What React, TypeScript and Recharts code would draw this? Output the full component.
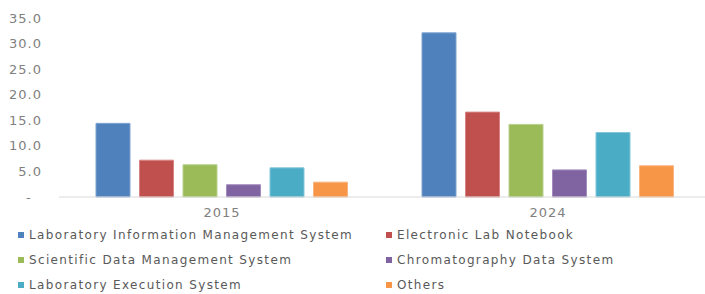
import React from 'react';
import { BarChart, Bar, XAxis, YAxis, Legend } from 'recharts';

const years = ['2015', '2024'];
const lims = [14.4, 32.1];
const eln = [7.2, 16.6];
const sdms = [6.3, 14.2];
const cds = [2.4, 5.3];
const les = [5.7, 12.6];
const others = [2.9, 6.1];
const yTicks = [0, 5, 10, 15, 20, 25, 30, 35];

const seriesNames = [
  'Laboratory Information Management System',
  'Electronic Lab Notebook',
  'Scientific Data Management System',
  'Chromatography Data System',
  'Laboratory Execution System',
  'Others',
];
const seriesKeys = ['lims', 'eln', 'sdms', 'cds', 'les', 'others'];
const colors = ['#4f81bd', '#c0504d', '#9bbb59', '#8064a2', '#4bacc6', '#f79646'];
const strokes = ['#7ea3d3', '#d68583', '#b9d18b', '#a28cbf', '#82c6d9', '#fab47f'];

const seriesValues = [lims, eln, sdms, cds, les, others];
const data = years.map((y, i) => {
  const row: Record<string, any> = { year: y };
  seriesKeys.forEach((k, j) => {
    row[k] = seriesValues[j][i];
  });
  return row;
});

const FONT = '"DejaVu Sans", Verdana, sans-serif';

const renderLegend = () => (
  <div
    style={{
      display: 'grid',
      gridTemplateColumns: '368px 300px',
      gridAutoRows: '25px',
      paddingLeft: 18,
      paddingTop: 3,
      fontFamily: FONT,
      fontSize: 12,
      letterSpacing: 1.35,
      color: '#595959',
    }}
  >
    {seriesNames.map((n, i) => (
      <div key={n} style={{ display: 'flex', alignItems: 'center', whiteSpace: 'nowrap' }}>
        <span
          style={{
            display: 'inline-block',
            width: 6,
            height: 6,
            background: colors[i],
            marginRight: 5,
          }}
        />
        <span>{n}</span>
      </div>
    ))}
  </div>
);

const yFmt = (v: number) => (v === 0 ? '-\u00a0\u00a0' : v.toFixed(1));

export default function App() {
  return (
    <div style={{ position: 'absolute', left: 0, top: 0, width: 705, height: 294, overflow: 'hidden', background: '#fff' }}>
      <BarChart
        width={711}
        height={294}
        data={data}
        margin={{ top: 18, right: 0, bottom: 0, left: 0 }}
        barGap={9.5}
        barSize={34}
      >
        <YAxis
          width={59}
          domain={[0, 35]}
          ticks={yTicks}
          tickFormatter={yFmt}
          axisLine={false}
          tickLine={false}
          tickSize={0}
          tickMargin={17}
          tick={{ fill: '#808080', fontSize: 13, fontFamily: FONT, letterSpacing: 1 }}
        />
        <XAxis
          dataKey="year"
          height={22}
          tickLine={false}
          tickSize={0}
          tickMargin={11}
          axisLine={{ stroke: '#d9d9d9' }}
          tick={{ fill: '#808080', fontSize: 13, fontFamily: FONT, letterSpacing: 1 }}
        />
        <Legend verticalAlign="bottom" height={75} content={renderLegend} wrapperStyle={{ left: 0, width: 705 }} />
        {seriesKeys.map((k, i) => (
          <Bar
            key={k}
            dataKey={k}
            name={seriesNames[i]}
            fill={colors[i]}
            stroke={strokes[i]}
            strokeWidth={1}
            isAnimationActive={false}
          />
        ))}
      </BarChart>
    </div>
  );
}
